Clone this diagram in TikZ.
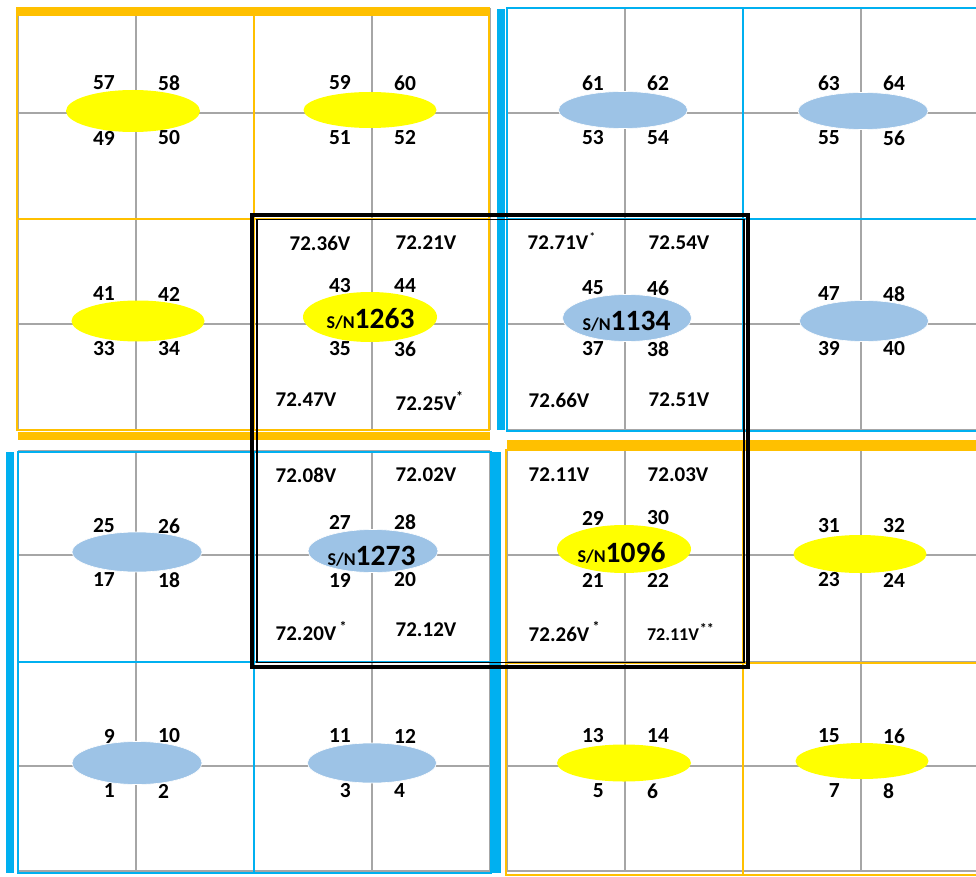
\documentclass[tikz,border=0pt]{standalone}
\usepackage{fontspec}
\setmainfont{Carlito}
\usetikzlibrary{shapes.geometric}
\definecolor{gridgray}{HTML}{A6A6A6}
\definecolor{ored}{HTML}{FFC000}
\definecolor{bl}{HTML}{00B0F0}
\definecolor{ellblue}{HTML}{9DC3E6}
\definecolor{ellyellow}{HTML}{FFFF00}
\newcommand\tilenums[7]{%
  \node[num,anchor=east] (n#4) at ({#1-21},{#2+(#3)}) {#4};
  \node[num,anchor=west] (n#5) at ({#1+22},{#2+(#3)}) {#5};
  \node[num,anchor=east] (n#6) at ({#1-21},{#2+25}) {#6};
  \node[num,anchor=west] (n#7) at ({#1+22},{#2+25}) {#7};
}
\newcommand\snlabel[1]{{\bfseries\fontsize{18}{18}\selectfont S/N}{\bfseries\fontsize{29.5}{30}\selectfont #1}}
\begin{document}
\begin{tikzpicture}[x=1pt,y=-1pt,
  num/.style={font=\fontsize{21.5}{22}\selectfont\bfseries, inner sep=0pt},
  volt/.style={font=\fontsize{21}{22}\selectfont\bfseries, inner sep=0pt},
  voltsm/.style={font=\fontsize{18}{19}\selectfont\bfseries, inner sep=0pt},
  ast/.style={font=\fontsize{14}{14}\selectfont\bfseries, inner sep=0pt, anchor=base west, yshift=-5pt},
  ell/.style={ellipse, inner sep=0pt, minimum width=132pt, minimum height=40pt},
  yell/.style={ell, fill=ellyellow},
  bell/.style={ell, fill=ellblue, draw=white, line width=0.6pt},
  sn/.style={inner sep=0pt, anchor=base},
  gline/.style={draw=gridgray, line width=2.3pt},
  otile/.style={draw=ored, line width=1.6pt},
  btile/.style={draw=bl, line width=1.6pt}]
\useasboundingbox (0,0) rectangle (976,877);
\clip (0,0) rectangle (976,877);
\fill[white] (0,0) rectangle (976,877);
% gray grids
\foreach \x in {18,136,254,372,490} \draw[gline] (\x,8) -- (\x,430);
\foreach \y in {8,113,219,324,430} \draw[gline] (18,\y) -- (490,\y);
\foreach \x in {507,625,743,861} \draw[gline] (\x,8) -- (\x,430);
\foreach \y in {8,113,219,324,430} \draw[gline] (507,\y) -- (979,\y);
\foreach \x in {18,136,254,372,490} \draw[gline] (\x,451) -- (\x,871);
\foreach \y in {451,555,662,766,871} \draw[gline] (18,\y) -- (490,\y);
\foreach \x in {507,625,743,861} \draw[gline] (\x,450) -- (\x,871);
\foreach \y in {450,555,662,766,871} \draw[gline] (507,\y) -- (979,\y);
% tile borders
\draw[otile] (17,8) rectangle (254,219);
\draw[otile] (254,8) rectangle (489,219);
\draw[otile] (17,219) rectangle (254,430);
\draw[otile] (254,219) rectangle (489,430);
\draw[btile] (507,8) rectangle (743,219);
\draw[btile] (743,8) rectangle (979,219);
\draw[btile] (507,219) rectangle (743,431);
\draw[btile] (743,219) rectangle (979,431);
\draw[btile] (18,452) rectangle (254,662);
\draw[btile] (254,452) rectangle (491,662);
\draw[btile] (18,662) rectangle (254,873);
\draw[btile] (254,662) rectangle (491,873);
\draw[otile] (506,450) rectangle (743,663);
\draw[otile] (743,450) rectangle (979,663);
\draw[otile] (506,663) rectangle (743,875);
\draw[otile] (743,663) rectangle (979,875);
% thick bars
\fill[ored] (17,7) rectangle (490,16);
\fill[ored] (18,432) rectangle (490,440);
\fill[bl] (497,9) rectangle (505,430);
\fill[bl] (6,452) rectangle (14,873);
\fill[bl] (492,452) rectangle (501,873);
\fill[ored] (507,440) rectangle (979,449);
% ellipses
\node[yell, minimum width=134pt, minimum height=42pt] (e5758) at (133,111) {};
\node[yell, minimum width=133pt, minimum height=36pt] (e5960) at (370,110) {};
\node[bell, minimum width=129pt, minimum height=37pt] (e6162) at (623,110) {};
\node[bell, minimum width=130pt, minimum height=37pt] (e6364) at (863,111) {};
\node[yell, minimum width=133pt, minimum height=41pt] (e4142) at (138,321) {};
\node[yell, minimum width=134pt, minimum height=50pt] (e1263) at (370,317) {};
\node[bell, minimum width=129pt, minimum height=47pt] (e1134) at (627,318) {};
\node[bell, minimum width=129pt, minimum height=41pt] (e4748) at (864,321) {};
\node[bell, minimum width=130pt, minimum height=40pt] (e2526) at (137,552) {};
\node[bell, minimum width=130pt, minimum height=43pt] (e1273) at (373,551) {};
\node[yell, minimum width=134pt, minimum height=48pt] (e1096) at (624,549) {};
\node[yell, minimum width=133pt, minimum height=38pt] (e3132) at (860,554) {};
\node[bell, minimum width=130pt, minimum height=43pt] (e0910) at (137,763) {};
\node[bell, minimum width=129pt, minimum height=40pt] (e1112) at (372,763) {};
\node[yell, minimum width=134pt, minimum height=37pt] (e1314) at (624,763) {};
\node[yell, minimum width=133pt, minimum height=36pt] (e1516) at (862,761) {};
% serial numbers
\node[sn] (s1263) at (370.5,328) {\snlabel{1263}};
\node[sn] (s1134) at (626.5,330) {\snlabel{1134}};
\node[sn] (s1273) at (371.5,565) {\snlabel{1273}};
\node[sn] (s1096) at (621.5,562) {\snlabel{1096}};
% selection rectangle
\draw[line width=4pt] (252,215.5) rectangle (748,667);
\draw[line width=1.5pt] (257,219.5) rectangle (744,662.5);
% cell numbers
\tilenums{136}{113}{-30}{57}{58}{49}{50}
\tilenums{372}{113}{-30}{59}{60}{51}{52}
\tilenums{625}{113}{-30}{61}{62}{53}{54}
\tilenums{861}{113}{-30}{63}{64}{55}{56}
\tilenums{136}{324}{-30}{41}{42}{33}{34}
\tilenums{372}{324}{-38}{43}{44}{35}{36}
\tilenums{625}{324}{-36}{45}{46}{37}{38}
\tilenums{861}{324}{-30}{47}{48}{39}{40}
\tilenums{136}{555}{-29}{25}{26}{17}{18}
\tilenums{372}{555}{-33}{27}{28}{19}{20}
\tilenums{625}{555}{-37}{29}{30}{21}{22}
\tilenums{861}{555}{-29}{31}{32}{23}{24}
\tilenums{136}{766}{-30}{9}{10}{1}{2}
\tilenums{372}{766}{-30}{11}{12}{3}{4}
\tilenums{625}{766}{-30}{13}{14}{5}{6}
\tilenums{861}{766}{-30}{15}{16}{7}{8}
% voltages
\node[volt] (v1) at (320,243) {72.36V};
\node[volt] (v2) at (426,243) {72.21V};
\node[volt] (v3) at (306,400) {72.47V};
\node[volt] (v4) at (426,404) {72.25V};
\node[ast, xshift=-0.5pt] (a4) at (v4.north east) {*};
\node[volt] (v5) at (558,243) {72.71V};
\node[ast, xshift=1pt, font=\fontsize{11}{11}\selectfont\bfseries] (a5) at (v5.north east) {*};
\node[volt] (v6) at (679,243) {72.54V};
\node[volt] (v7) at (559,400) {72.66V};
\node[volt] (v8) at (679,400) {72.51V};
\node[volt] (v9) at (306,475) {72.08V};
\node[volt] (v10) at (426,475) {72.02V};
\node[volt] (v11) at (306,634) {72.20V};
\node[ast, xshift=3pt] (a11) at (v11.north east) {*};
\node[volt] (v12) at (426,630) {72.12V};
\node[volt] (v13) at (559,475) {72.11V};
\node[volt] (v14) at (678,475) {72.03V};
\node[volt] (v15) at (559,634) {72.26V};
\node[ast, xshift=3pt] (a15) at (v15.north east) {*};
\node[voltsm] (v16) at (673,634.5) {72.11V};
\node[ast, xshift=0.5pt] (a16) at (v16.north east) {**};
\end{tikzpicture}
\end{document}
